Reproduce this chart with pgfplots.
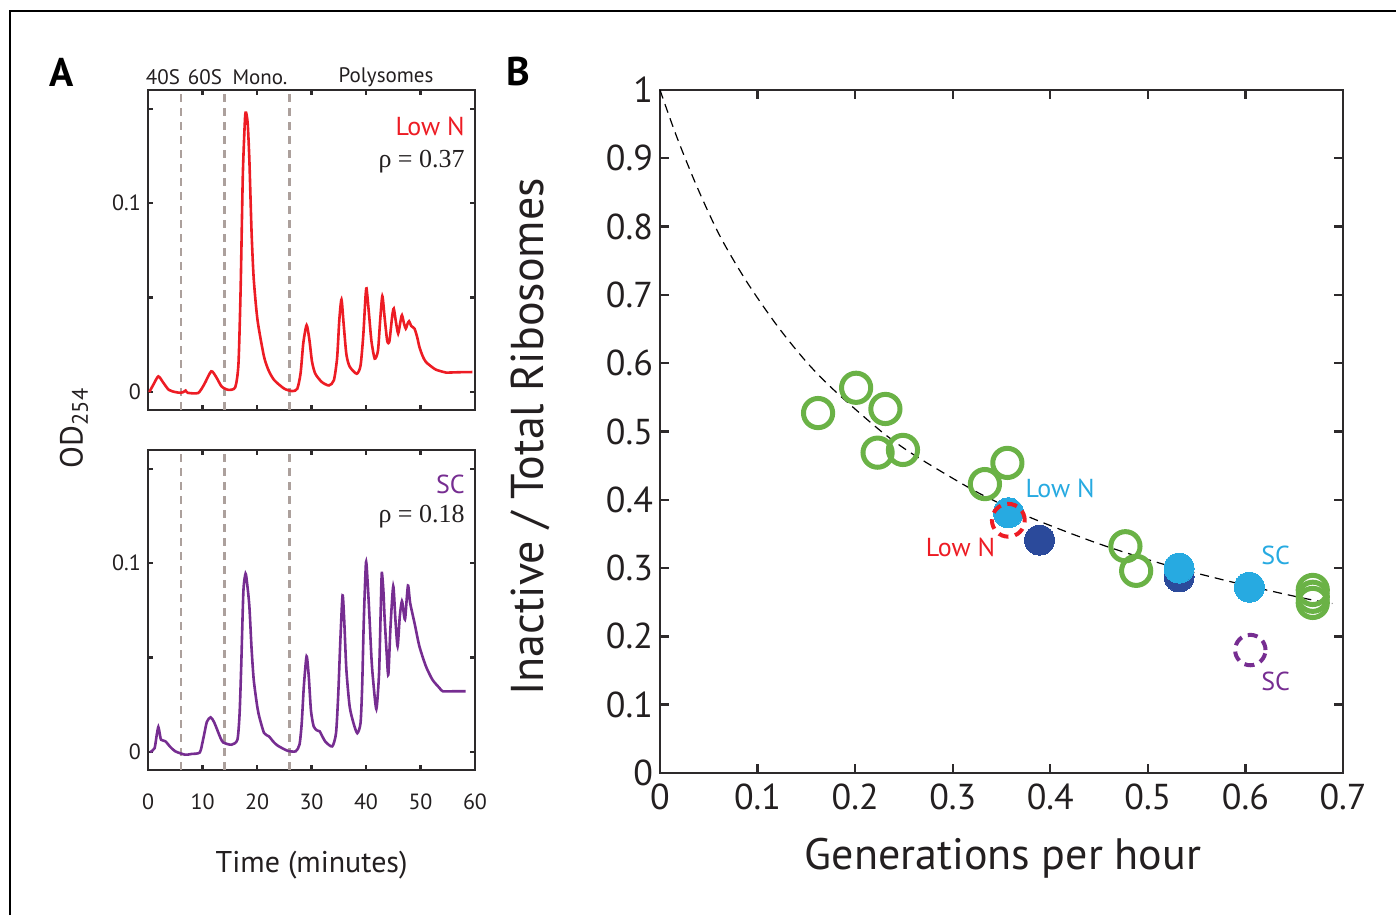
\documentclass[border=0pt]{standalone}
\usepackage{fontspec}
\setmainfont{PT Sans}
\newfontfamily\rhofont{Liberation Serif}
\usepackage{pgfplots}
\pgfplotsset{compat=1.18}

\definecolor{axgray}{RGB}{45,42,43}
\definecolor{txtgray}{RGB}{35,31,32}
\definecolor{lowred}{RGB}{237,28,36}
\definecolor{scpurple}{RGB}{118,45,145}
\definecolor{vgray}{RGB}{172,160,156}
\definecolor{mgreen}{RGB}{106,178,70}
\definecolor{lblue}{RGB}{39,170,225}
\definecolor{dblue}{RGB}{43,74,155}

\pgfplotsset{
  panelA/.style={
    scale only axis, width=163.5pt, height=160pt,
    xmin=0, xmax=60, ymin=-0.0095, ymax=0.16,
    xtick={0,10,20,30,40,50,60},
    ytick={0,0.05,0.1,0.15}, yticklabels={0,,0.1,},
    major tick length=2.5pt,
    axis line style={line width=1.2pt, draw=axgray},
    tick style={line width=1.2pt, draw=axgray},
    tick label style={font=\fontsize{11}{13}\selectfont, text=txtgray},
    clip=true,
  },
  vline/.style={vgray, line width=1.2pt, dash pattern=on 4pt off 3pt},
}

\begin{document}
\begin{tikzpicture}
\path[use as bounding box] (0pt,0pt) rectangle (698pt,457.5pt);
\draw[line width=0.6pt] (5pt,0pt) -- (5pt,452pt) -- (698pt,452pt);

% panel A, Low N
\begin{axis}[panelA, at={(74pt,252.5pt)}, anchor=south west, xticklabel=\empty]
\addplot[vline] coordinates {(6,-0.0095) (6,0.16)};
\addplot[vline] coordinates {(14,-0.0095) (14,0.16)};
\addplot[vline] coordinates {(26,-0.0095) (26,0.16)};
\addplot[lowred, line width=1.3pt, smooth, tension=0.4] coordinates {
(0.24,0) (1.0,0.004) (1.9,0.0083) (2.8,0.005) (3.8,0.0012) (5.0,0.0) (6.0,-0.0004)
(6.5,0.0) (6.9,0.0008) (7.3,-0.0004) (9.2,-0.0005) (10.3,0.004) (11.6,0.011)
(12.5,0.008) (13.5,0.003) (14.7,0.0012) (16.0,0.0025) (16.6,0.015) (17.0,0.055)
(17.4,0.115) (17.8,0.145) (18.0,0.148) (18.3,0.142) (18.6,0.123) (19.0,0.085)
(19.4,0.06) (20.1,0.038) (21.3,0.0186) (22.2,0.011) (23.2,0.0062) (25.0,0.0018)
(26.5,0.0005) (27.4,0.0018) (28.0,0.010) (28.5,0.026) (29.1,0.0354) (29.6,0.028)
(30.1,0.016) (30.7,0.0097) (31.9,0.0053) (33.2,0.0035) (34.1,0.0062) (34.7,0.018)
(35.1,0.038) (35.5,0.049) (35.9,0.036) (36.4,0.020) (37.0,0.0135) (38.3,0.0097)
(39.0,0.014) (39.5,0.030) (39.9,0.050) (40.1,0.0549) (40.5,0.043) (41.0,0.027)
(41.6,0.0177) (42.2,0.022) (42.6,0.038) (43.0,0.0508) (43.4,0.040) (43.9,0.027)
(44.3,0.027) (44.8,0.040) (45.1,0.0442) (45.5,0.037) (45.9,0.031) (46.3,0.037)
(46.6,0.0407) (47.0,0.036) (47.3,0.0336) (47.6,0.036) (47.9,0.0375) (48.3,0.035)
(48.9,0.0336) (49.4,0.029) (49.8,0.0239) (50.4,0.019) (51.0,0.0159) (52.0,0.0135)
(52.8,0.0119) (54.0,0.0108) (54.7,0.0103) (57.0,0.0105) (59.5,0.0106)};
\node[anchor=east, text=lowred, font=\fontsize{13}{15}\selectfont] at (axis cs:59.4,0.1405) {Low N};
\node[anchor=east, text=txtgray, font=\fontsize{13}{15}\rhofont] at (axis cs:59.4,0.1222) {ρ = 0.37};
\end{axis}

% panel A, SC
\begin{axis}[panelA, at={(74pt,72.5pt)}, anchor=south west,
  xticklabels={0,10,20,30,40,50,60}, xticklabel style={yshift=-8.5pt}]
\addplot[vline] coordinates {(6,-0.0095) (6,0.16)};
\addplot[vline] coordinates {(14,-0.0095) (14,0.16)};
\addplot[vline] coordinates {(26,-0.0095) (26,0.16)};
\addplot[scpurple, line width=1.3pt, smooth, tension=0.4] coordinates {
(0.4,0) (1.2,0.002) (1.6,0.009) (1.9,0.0133) (2.2,0.009) (2.4,0.0065) (3.2,0.0057)
(4.0,0.003) (5.0,0.0004) (6.8,-0.0014) (8.0,-0.001) (9.5,-0.0002) (10.1,0.0065)
(10.8,0.016) (11.5,0.0184) (12.1,0.016) (12.7,0.0118) (13.3,0.0075) (13.8,0.0051)
(15.3,0.0039) (16.4,0.0065) (16.8,0.020) (17.1,0.045) (17.5,0.085) (17.9,0.0945)
(18.2,0.089) (18.6,0.0772) (19.0,0.055) (19.4,0.0383) (20.0,0.025) (20.4,0.0189)
(21.3,0.0101) (22.2,0.0083) (23.0,0.0055) (23.8,0.0034) (25.6,0.0007) (27.1,0.0004)
(27.8,0.004) (28.2,0.015) (28.6,0.035) (29.1,0.0507) (29.5,0.040) (29.9,0.022)
(30.4,0.0136) (31.0,0.0115) (31.5,0.011) (32.5,0.0057) (33.8,0.003) (34.5,0.01)
(34.9,0.03) (35.3,0.0595) (35.7,0.083) (36.0,0.070) (36.4,0.0436) (37.0,0.0242)
(37.7,0.0154) (38.4,0.01) (39.0,0.0154) (39.3,0.035) (39.6,0.07) (40.0,0.1005)
(40.3,0.090) (40.6,0.0737) (41.0,0.050) (41.3,0.0383) (41.9,0.0228) (42.4,0.0419)
(42.7,0.075) (42.9,0.0949) (43.2,0.085) (43.4,0.0719) (43.8,0.052) (44.1,0.041)
(44.5,0.0666) (45.0,0.0878) (45.4,0.0701) (45.8,0.056) (46.2,0.0719) (46.6,0.0799)
(47.0,0.072) (47.2,0.071) (47.7,0.0882) (48.1,0.079) (48.9,0.0684) (49.8,0.056)
(51.0,0.0454) (52.2,0.0383) (53.5,0.0339) (54.1,0.0322) (56.0,0.0322) (58.3,0.0322)};
\node[anchor=east, text=scpurple, font=\fontsize{13}{15}\selectfont] at (axis cs:59.4,0.142) {SC};
\node[anchor=east, text=txtgray, font=\fontsize{13}{15}\rhofont] at (axis cs:59.4,0.1245) {ρ = 0.18};
\end{axis}

% panel B
\begin{axis}[at={(330pt,71pt)}, anchor=south west, scale only axis,
  width=341.5pt, height=341.5pt, xmin=0, xmax=0.7, ymin=0, ymax=1,
  xtick={0,0.1,0.2,0.3,0.4,0.5,0.6,0.7},
  xticklabels={0,0.1,0.2,0.3,0.4,0.5,0.6,0.7},
  ytick={0,0.1,0.2,0.3,0.4,0.5,0.6,0.7,0.8,0.9,1},
  yticklabels={0,0.1,0.2,0.3,0.4,0.5,0.6,0.7,0.8,0.9,1},
  xticklabel style={yshift=-2pt},
  major tick length=4.5pt,
  axis line style={line width=1.2pt, draw=axgray},
  tick style={line width=1.2pt, draw=axgray},
  tick label style={font=\fontsize{18}{20}\selectfont, text=txtgray},
  clip=false]
\addplot[black, line width=0.6pt, dash pattern=on 4.5pt off 3pt, smooth] coordinates {
(0,1.0) (0.017,0.932) (0.038,0.858) (0.0615,0.786) (0.089,0.719) (0.12,0.655)
(0.15,0.602) (0.178,0.561) (0.226,0.501) (0.26,0.466) (0.315,0.419) (0.342,0.399)
(0.383,0.372) (0.451,0.335) (0.52,0.304) (0.588,0.279) (0.656,0.257) (0.689,0.248)};
\addplot[only marks, mgreen, mark=o, mark size=7.3pt, mark options={draw=mgreen, line width=2.5pt}] coordinates {
(0.162,0.527) (0.201,0.564) (0.231,0.533) (0.223,0.469) (0.249,0.473)
(0.333,0.423) (0.356,0.454) (0.477,0.332) (0.488,0.296)
(0.669,0.268) (0.669,0.258) (0.669,0.249)};
\addplot[only marks, dblue, mark=*, mark size=7.5pt, mark options={fill=dblue, draw=dblue, line width=0pt}] coordinates {
(0.389,0.341) (0.532,0.287)};
\addplot[only marks, lblue, mark=*, mark size=7.5pt, mark options={fill=lblue, draw=lblue, line width=0pt}] coordinates {
(0.357,0.381) (0.532,0.300) (0.604,0.272)};
\addplot[only marks, lowred, mark=o, mark size=8.2pt, mark options={draw=lowred, line width=2pt, dash pattern=on 5pt off 3.4pt}] coordinates {
(0.357,0.370)};
\addplot[only marks, scpurple, mark=o, mark size=7.6pt, mark options={draw=scpurple, line width=2pt, dash pattern=on 5pt off 3.2pt}] coordinates {
(0.605,0.180)};
\node[text=lblue, font=\fontsize{13}{15}\selectfont] at (axis cs:0.410,0.416) {Low N};
\node[text=lowred, font=\fontsize{13}{15}\selectfont] at (axis cs:0.308,0.331) {Low N};
\node[text=lblue, font=\fontsize{13}{15}\selectfont] at (axis cs:0.631,0.319) {SC};
\node[text=scpurple, font=\fontsize{13}{15}\selectfont] at (axis cs:0.631,0.134) {SC};
\end{axis}

% labels
\node[font=\fontsize{20}{24}\selectfont\bfseries, text=black] at (31pt,421.5pt) {A};
\node[font=\fontsize{20}{24}\selectfont\bfseries, text=black] at (259pt,421.5pt) {B};
\begin{scope}[every node/.style={font=\fontsize{10.5}{12}\selectfont, text=txtgray}]
\node at (81.5pt,418.75pt) {40S};
\node at (102.5pt,418.75pt) {60S};
\node at (130pt,418.75pt) {Mono.};
\node at (193pt,418.75pt) {Polysomes};
\end{scope}
\node[rotate=90, font=\fontsize{16}{18}\selectfont, text=txtgray] at (37pt,243.5pt) {OD\textsubscript{254}};
\node[font=\fontsize{15}{17}\selectfont, text=txtgray] at (155.8pt,25pt) {Time (minutes)};
\node[font=\fontsize{22}{24}\selectfont, text=txtgray] at (501.5pt,28.5pt) {Generations per hour};
\node[rotate=90, font=\fontsize{23}{25}\selectfont, text=txtgray] at (265pt,239pt) {Inactive / Total Ribosomes};
\end{tikzpicture}
\end{document}
